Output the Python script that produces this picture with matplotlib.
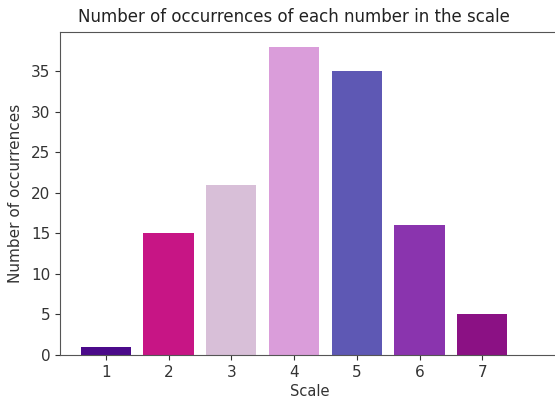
import matplotlib
matplotlib.use('Agg')
import matplotlib.pyplot as plt

# data
scale = [1, 2, 3, 4, 5, 6, 7]
counts = [1, 15, 21, 38, 35, 16, 5]
bar_colors = ['#4b0a8a', '#c71585', '#d8bfd8', '#da9dda',
              '#5e58b4', '#8a34ae', '#8b1184']

fig = plt.figure(figsize=(5.55, 4.05), dpi=100)
# axes runs slightly past the right edge of the picture (cropped screenshot)
ax = fig.add_axes([60/555, 50/405, (560-60)/555, (355-31.5)/405])

ax.bar(scale, counts, color=bar_colors, width=0.8)

ax.set_xlim(0.27, 0.27 + (560-60)/62.75)
ax.set_xticks(scale)
ax.set_yticks(range(0, 36, 5))
ax.tick_params(labelsize=11, colors='#333333', labelcolor='#333333')
for s in ax.spines.values():
    s.set_color('#555555')

ax.set_xlabel('Scale', fontsize=10.5, color='#333333', labelpad=3)
ax.set_ylabel('Number of occurrences', fontsize=11, color='#333333', labelpad=6)
fig.text(294/555, 1 - 17/405, 'Number of occurrences of each number in the scale',
         ha='center', va='center', fontsize=12, color='#222222')

fig.savefig('out.png', dpi=100)
